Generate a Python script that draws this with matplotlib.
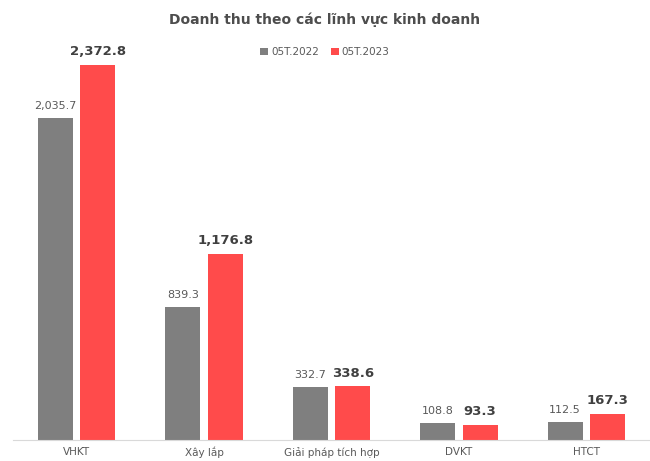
import numpy as np
from matplotlib import pyplot as plt

categories = ['VHKT', 'Xây lắp', 'Giải pháp tích hợp', 'DVKT', 'HTCT']
values_2022 = [2035.7, 839.3, 332.7, 108.8, 112.5]
values_2023 = [2372.8, 1176.8, 338.6, 93.3, 167.3]
series_names = ['05T.2022', '05T.2023']

gray = '#7f7f7f'
red = '#ff4b4b'
textcol = '#595959'

fig = plt.figure(figsize=(6.5, 4.61), dpi=100)
ax = fig.add_axes([0.02, 21 / 461, 0.98, 410 / 461])

x = np.arange(len(categories))
w = 0.275
off = 0.167
b1 = ax.bar(x - off, values_2022, w, color=gray, label=series_names[0])
b2 = ax.bar(x + off, values_2023, w, color=red, label=series_names[1])

for rect, v in zip(b1, values_2022):
    ax.annotate(f'{v:,.1f}', (rect.get_x() + rect.get_width() / 2, v),
                xytext=(0, 5), textcoords='offset points', ha='center', va='bottom',
                fontsize=8, color=textcol)
for rect, v in zip(b2, values_2023):
    ax.annotate(f'{v:,.1f}', (rect.get_x() + rect.get_width() / 2, v),
                xytext=(0, 5), textcoords='offset points', ha='center', va='bottom',
                fontsize=9.5, color='#404040', fontweight='bold')

ax.set_xlim(-0.5, 4.5)
ax.set_ylim(0, 2594)
ax.set_xticks(x)
ax.set_xticklabels(categories, fontsize=7.5, color=textcol)
ax.tick_params(axis='x', length=0, pad=5)
ax.set_yticks([])
for s in ['top', 'left', 'right']:
    ax.spines[s].set_visible(False)
ax.spines['bottom'].set_color('#d9d9d9')

fig.text(0.5, 1 - 20 / 461, 'Doanh thu theo các lĩnh vực kinh doanh', ha='center', va='center',
         fontsize=10, fontweight='bold', color='#4d4d4d')
fig.legend(loc='center', bbox_to_anchor=(0.5, 1 - 52 / 461), ncol=2, frameon=False,
           fontsize=7.5, handlelength=0.7, handleheight=0.7, handletextpad=0.3,
           columnspacing=1.2, labelcolor=textcol)

fig.savefig('out.png', dpi=100)
